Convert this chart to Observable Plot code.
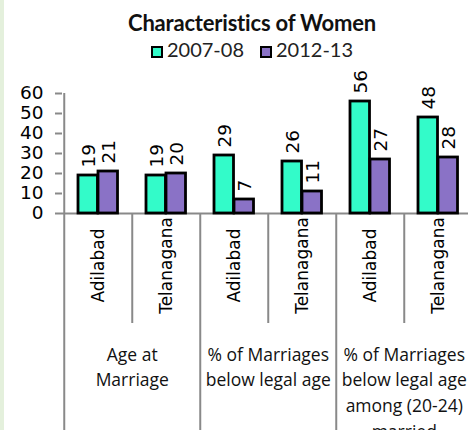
<!DOCTYPE html>
<html><head><meta charset="utf-8">
<script src="https://cdn.jsdelivr.net/npm/d3@7"></script>
<script src="https://cdn.jsdelivr.net/npm/@observablehq/plot@0.6"></script>
<style>
body{margin:0;background:#fff;width:468px;height:430px;overflow:hidden;position:relative;}
#strip{position:absolute;left:0;top:0;width:4px;height:430px;background:#e4f0dc;}
#title{position:absolute;left:36px;width:432px;top:11px;text-align:center;font:bold 22px Lato;line-height:24px;color:#111;white-space:nowrap;letter-spacing:-0.2px;}
#legend{position:absolute;left:36px;width:432px;top:37px;text-align:center;font:20px Lato;line-height:24px;color:#222;white-space:nowrap;}
.sw{display:inline-block;width:8px;height:8px;border:2px solid #000;margin-right:4px;vertical-align:-1px;}
.item{margin:0 8px;}
#chart{position:absolute;left:0;top:60px;}
</style></head>
<body>
<div id="strip"></div>
<div id="title">Characteristics of Women</div>
<div id="legend"></div>
<div id="chart"></div>
<script>
const groups = ["Age at\nMarriage", "% of Marriages\nbelow legal age", "% of Marriages\nbelow legal age\namong (20-24)\nmarried"];
const districts = ["Adilabad", "Telanagana"];
const series = ["2007-08", "2012-13"];
const colors = ["#33fbc9", "#8a72c6"];
const values0708 = [19, 19, 29, 26, 56, 48];
const values1213 = [21, 20, 7, 11, 27, 28];
const yTicks = [0, 10, 20, 30, 40, 50, 60];

const rows = [];
groups.forEach((g, gi) => districts.forEach((d, di) => {
  const i = gi * 2 + di;
  rows.push({key: gi + "|" + d, group: g, gi, district: d, di, v1: values0708[i], v2: values1213[i]});
}));
const keys = rows.map(r => r.key);
const gray = "#898989";
const xRange = [62, 473];
const bw = (xRange[1] - xRange[0]) / keys.length;

document.getElementById("legend").innerHTML = series.map((s, i) =>
  `<span class="item"><span class="sw" style="background:${colors[i]}"></span>${s}</span>`).join("");

const chart = Plot.plot({
  width: 468, height: 370,
  marginLeft: 62, marginRight: 0, marginTop: 0, marginBottom: 0,
  style: {fontFamily: "DejaVu Sans", fontSize: "18px", color: "#000", background: "transparent"},
  x: {domain: keys, range: xRange, padding: 0, axis: null},
  y: {domain: [0, 60], range: [153, 33], axis: null},
  marks: [
    Plot.axisY(yTicks, {tickSize: 7, tickPadding: 12, stroke: gray, strokeWidth: 2, fill: "#000", fontSize: 18.5}),
    Plot.ruleX([keys[0]], {x: d => d, dx: -bw / 2, y1: 0, y2: 60, stroke: gray, strokeWidth: 2}),
    Plot.ruleX(rows.filter(r => r.di === 1), {x: "key", dx: -bw / 2, y1: 0, y2: -55, stroke: gray, strokeWidth: 2}),
    Plot.ruleX(rows.filter(r => r.di === 0), {x: "key", dx: -bw / 2, y1: 0, y2: -110, stroke: gray, strokeWidth: 2}),
    Plot.ruleY([0], {stroke: gray, strokeWidth: 2}),
    Plot.barY(rows, {x: "key", y: "v1", fill: colors[0], stroke: "#000", strokeWidth: 2.8, insetLeft: 14, insetRight: bw - 34}),
    Plot.barY(rows, {x: "key", y: "v2", fill: colors[1], stroke: "#000", strokeWidth: 2.8, insetLeft: 34, insetRight: bw - 54}),
    Plot.text(rows, {x: "key", y: "v1", text: d => String(d.v1), rotate: -90, textAnchor: "start", dx: -bw / 2 + 25, dy: -8, fontSize: 18.5}),
    Plot.text(rows, {x: "key", y: "v2", text: d => String(d.v2), rotate: -90, textAnchor: "start", dx: -bw / 2 + 45, dy: -8, fontSize: 18.5}),
    Plot.text(rows, {x: "key", y: () => -26, text: "district", rotate: -90, textAnchor: "middle", fontSize: 17}),
    Plot.text(rows.filter(r => r.di === 1), {x: "key", dx: -bw / 2, y: () => -64.5, text: "group", lineAnchor: "top", lineHeight: 1.47, fontFamily: "Open Sans", fontSize: 17.5, fill: "#111"})
  ]
});
document.getElementById("chart").appendChild(chart);
</script>
</body></html>
